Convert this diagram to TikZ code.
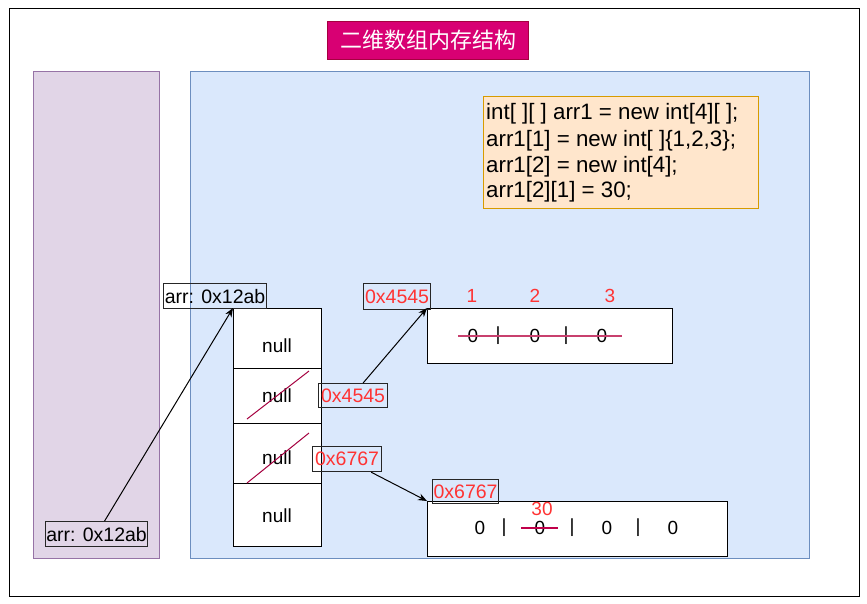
\documentclass[tikz,border=0pt]{standalone}
\usepackage{fontspec}
\setmainfont{Liberation Sans}
\newfontfamily\cjk{Noto Sans CJK SC}
\usetikzlibrary{arrows.meta}
\definecolor{titlefill}{HTML}{D80073}
\definecolor{titlestroke}{HTML}{A50040}
\definecolor{lilacfill}{HTML}{E1D5E7}
\definecolor{lilacstroke}{HTML}{9673A6}
\definecolor{bluefill}{HTML}{DAE8FC}
\definecolor{bluestroke}{HTML}{6C8EBF}
\definecolor{codefill}{HTML}{FFE6CC}
\definecolor{codestroke}{HTML}{D79B00}
\definecolor{redtxt}{HTML}{FF3333}
\definecolor{strikeA}{HTML}{A50040}
\definecolor{strikeB}{HTML}{C8406E}
\definecolor{strikeC}{HTML}{C0004A}
\tikzset{
  box/.style={draw, anchor=north west, inner sep=0pt},
  lilac/.style={box, fill=lilacfill, draw=lilacstroke, line width=1pt},
  bluebox/.style={box, fill=bluefill, draw=bluestroke, line width=1pt},
  titlebox/.style={box, fill=titlefill, draw=titlestroke, line width=1pt, text=white, font=\cjk\fontsize{22}{26}\selectfont},
  codebox/.style={box, fill=codefill, draw=codestroke, line width=1pt},
  codeline/.style={anchor=base west, inner sep=0pt, font=\fontsize{22.3}{26}\selectfont},
  cell/.style={box, fill=white, draw=black, line width=1pt},
  lbl/.style={box, draw=black!85, line width=1.2pt, font=\fontsize{19.5}{22}\selectfont},
  redlbl/.style={lbl, text=redtxt},
  txt/.style={inner sep=0pt, font=\fontsize{19}{22}\selectfont},
  redtxtst/.style={txt, text=redtxt},
  ptr/.style={-{Stealth[length=9pt,width=7pt]}, line width=1pt, black},
}
\begin{document}
\begin{tikzpicture}[x=1pt,y=-1pt]
\useasboundingbox (0,0) rectangle (867,603);
\fill[white] (0,0) rectangle (867,603);
% outer frame
\node[box, draw=black, line width=1.3pt, minimum width=850pt, minimum height=588pt] (frame) at (9,8) {};
% regions
\node[lilac, minimum width=126pt, minimum height=487pt] (stack) at (33,71) {};
\node[bluebox, minimum width=619pt, minimum height=487pt] (heap) at (190,71) {};
\node[titlebox, minimum width=201pt, minimum height=38pt] (title) at (327,21) {二维数组内存结构};
% code
\node[codebox, minimum width=275pt, minimum height=112pt] (code) at (483,96) {};
\node[codeline] (l1) at (486,119) {int[ ][ ] arr1 = new int[4][ ];};
\node[codeline] (l2) at (486,146) {arr1[1] = new int[ ]\{1,2,3\};};
\node[codeline] (l3) at (486,172) {arr1[2] = new int[4];};
\node[codeline] (l4) at (486,197) {arr1[2][1] = 30;};
% outer array cells
\node[cell, minimum width=88pt, minimum height=60pt] (c1) at (233,308) {};
\node[cell, minimum width=88pt, minimum height=55pt] (c2) at (233,368) {};
\node[cell, minimum width=88pt, minimum height=60pt] (c3) at (233,423) {};
\node[cell, minimum width=88pt, minimum height=63pt] (c4) at (233,483) {};
\node[txt] (n1) at (277,346) {null};
\node[txt] (n2) at (277,396) {null};
\node[txt] (n3) at (277,458) {null};
\node[txt] (n4) at (277,516) {null};
\coordinate (s1a) at (247,419); \coordinate (s1b) at (309,371);
\coordinate (s2a) at (247,483); \coordinate (s2b) at (309,433);
\draw[strikeA, line width=1pt] (s1a) -- (s1b);
\draw[strikeA, line width=1pt] (s2a) -- (s2b);
% labels
\node[lbl, minimum width=103pt, minimum height=25pt] (arrtop) at (163,283) {arr: 0x12ab};
\node[lbl, minimum width=102pt, minimum height=25pt] (arrbot) at (45,521) {arr: 0x12ab};
\node[redlbl, minimum width=69pt, minimum height=24pt] (p1) at (318,383) {0x4545};
\node[redlbl, minimum width=69pt, minimum height=25pt] (p2) at (312,446) {0x6767};
% inner array 1
\node[cell, minimum width=245pt, minimum height=55pt] (a1) at (427,308) {};
\node[redlbl, minimum width=67pt, minimum height=26pt] (a1lbl) at (363,283) {0x4545};
\node[redtxtst] (i1) at (472,296) {1};
\node[redtxtst] (i2) at (535,296) {2};
\node[redtxtst] (i3) at (610,296) {3};
\node[txt] (a1v1) at (473,336) {0};
\node[txt] (a1b1) at (498,336) {|};
\node[txt] (a1v2) at (535,336) {0};
\node[txt] (a1b2) at (566,336) {|};
\node[txt] (a1v3) at (602,336) {0};
\coordinate (sa) at (458,336); \coordinate (sb) at (622,336);
\draw[strikeB, line width=1.3pt] (sa) -- (sb);
% inner array 2
\node[cell, minimum width=300pt, minimum height=55pt] (a2) at (427,501) {};
\node[redlbl, minimum width=66pt, minimum height=24pt] (a2lbl) at (432,479) {0x6767};
\node[txt] (a2v1) at (480,528) {0};
\node[txt] (a2b1) at (504,528) {|};
\node[txt] (a2v2) at (540,528) {0};
\node[txt] (a2b2) at (572,528) {|};
\node[txt] (a2v3) at (607,528) {0};
\node[txt] (a2b3) at (638,528) {|};
\node[txt] (a2v4) at (673,528) {0};
\coordinate (sc) at (521,528); \coordinate (sd) at (558,528);
\draw[strikeC, line width=1.3pt] (sc) -- (sd);
\node[redtxtst] (v30) at (542,509) {30};
% pointers
\draw[ptr] ([xshift=8pt]arrbot.north) -- (c1.north west);
\draw[ptr] ([xshift=10pt]p1.north) -- (a1.north west);
\draw[ptr] ([xshift=-11pt]p2.south east) -- (a2.north west);
\end{tikzpicture}
\end{document}
